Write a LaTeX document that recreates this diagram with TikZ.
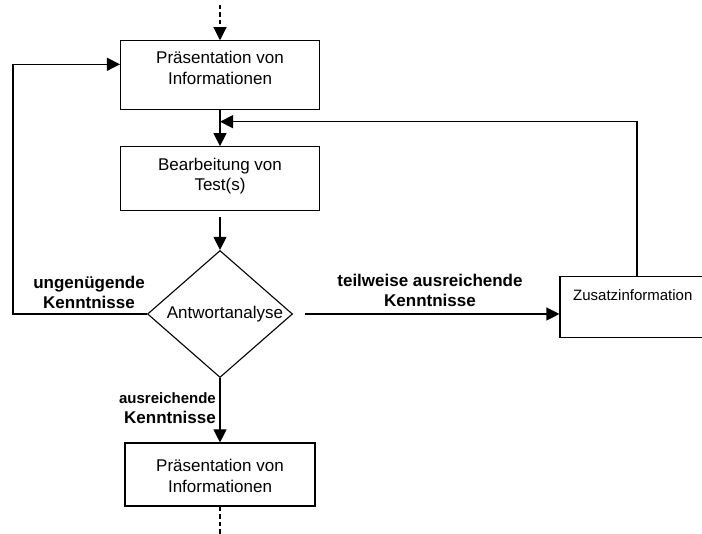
\documentclass[tikz,border=0pt]{standalone}
\usepackage{fontspec}
\setmainfont{Liberation Sans}
\usetikzlibrary{arrows.meta,shapes.geometric}
\begin{document}
\begin{tikzpicture}[x=1pt,y=-1pt,
  box/.style={draw, line width=1.1pt, inner sep=0pt},
  txt/.style={align=center, inner sep=0pt, font=\fontsize{17}{20.5}\selectfont},
  lbl/.style={align=center, inner sep=0pt, font=\bfseries\fontsize{17}{20}\selectfont},
  flow/.style={line width=1.1pt, -{Triangle[length=13pt,width=13pt]}},
  plain/.style={line width=1.1pt},
  dashy/.style={dash pattern=on 4.5pt off 3pt}]
\useasboundingbox (0,0) rectangle (702,534);
\clip (0,0) rectangle (702,534);

% process boxes
\node[box, minimum width=199pt, minimum height=69pt] (p1) at (220,75.3) {};
\node[txt] (p1t) at (220,68) {Präsentation von\\Informationen};

\node[box, minimum width=199pt, minimum height=64pt] (p2) at (220,178.7) {};
\node[txt] (p2t) at (220,176) {Bearbeitung von\\Test(s)};

\node[box, minimum width=190pt, minimum height=63pt] (p3) at (220,474.5) {};
\node[txt] (p3t) at (220,476) {Präsentation von\\Informationen};

% decision
\node[draw, diamond, aspect=1.14, minimum width=145pt, minimum height=127pt,
      inner sep=0pt, line width=1.1pt, font=\fontsize{17}{20}\selectfont]
      (d) at (220,314) {\hspace*{10pt}Antwortanalyse};

% extra information box (runs past the right edge)
\node[box, minimum width=154pt, minimum height=61.3pt] (z) at (637,307.3) {};
\node[anchor=west, inner sep=0pt, font=\fontsize{15}{18}\selectfont] (zt) at (573,295) {Zusatzinformation};

% connectors
\coordinate (src) at (220,5);
\draw[flow, dashy] (src) -- (p1.north);
\draw[flow] (p1) -- (p2);
\coordinate (back) at (220,121.7);
\draw[flow] (z.north) |- (back);
\draw[flow, shorten <=6pt] (p2) -- (d);
\coordinate (lc) at (13,314);
\draw[flow] (d.west) -- (lc) |- ([yshift=11pt]p1.west);
\draw[flow, shorten <=12pt] (d.east) -- (d.east -| z.west);
\draw[flow] (d) -- (p3);
\coordinate (sink) at (220,534);
\draw[plain, dashy] (p3) -- (sink);

% branch labels
\node[lbl] (l1) at (89,292) {ungenügende\\Kenntnisse};
\node[lbl] (l2) at (430,290) {teilweise ausreichende\\Kenntnisse};
\node[lbl, align=right, anchor=east] (l3) at (216,408)
  {{\fontsize{15}{18}\selectfont ausreichende}\\Kenntnisse};
\end{tikzpicture}
\end{document}
